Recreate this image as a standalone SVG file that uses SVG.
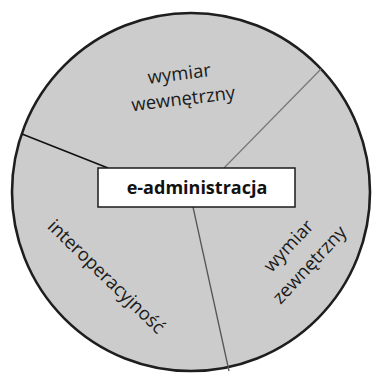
<svg xmlns="http://www.w3.org/2000/svg" width="372" height="375" viewBox="0 0 372 375">
<style>
.lbl{font-family:"Open Sans","Noto Sans","Liberation Sans",sans-serif;font-size:18.5px;fill:#1a1a1a;text-anchor:middle}
.ttl{font-family:"Open Sans","Noto Sans","Liberation Sans",sans-serif;font-size:18px;font-weight:bold;fill:#111;text-anchor:middle}
</style>
<rect width="372" height="375" fill="#ffffff"/>
<g id="circle">
<circle cx="191" cy="192" r="179" fill="#cccccc" stroke="#1e1e1e" stroke-width="2.6"/>
</g>
<g id="connectors">
<line x1="22" y1="134" x2="108" y2="168" stroke="#111" stroke-width="1.6"/>
<line x1="321" y1="69" x2="224" y2="168" stroke="#777" stroke-width="1.2"/>
<line x1="193" y1="207" x2="229" y2="371" stroke="#555" stroke-width="1.3"/>
</g>
<g id="wewnetrzny">
<text class="lbl" transform="translate(180,80) rotate(-7)">wymiar</text>
<text class="lbl" transform="translate(184,105) rotate(-7)">wewnętrzny</text>
</g>
<g id="zewnetrzny">
<text class="lbl" transform="translate(293,250) rotate(-47)">wymiar</text>
<text class="lbl" transform="translate(314,269) rotate(-47)">zewnętrzny</text>
</g>
<g id="interoperacyjnosc">
<text class="lbl" transform="translate(102,281) rotate(44)">interoperacyjność</text>
</g>
<g id="center">
<rect x="98" y="168" width="197" height="39" fill="#ffffff" stroke="#1a1a1a" stroke-width="1.5"/>
<text class="ttl" x="197" y="194">e-administracja</text>
</g>
</svg>
